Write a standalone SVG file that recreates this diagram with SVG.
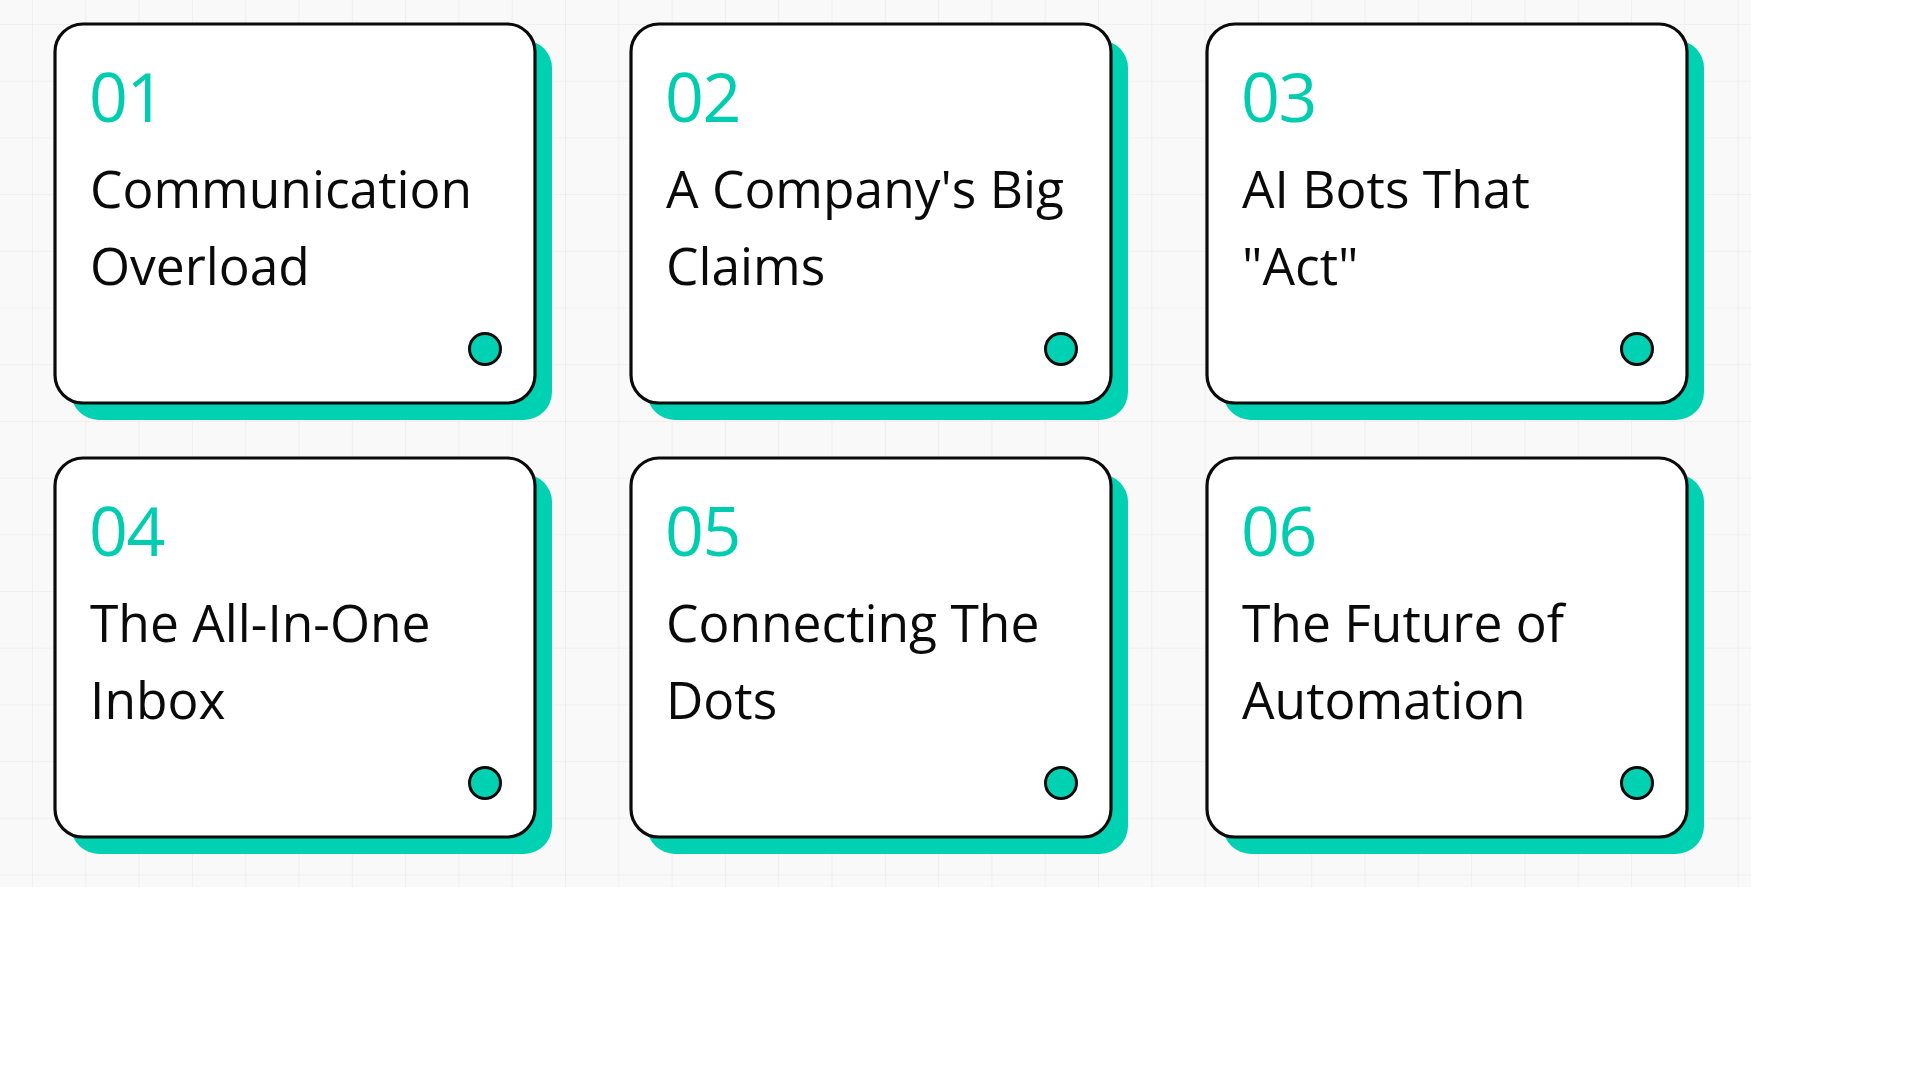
<svg xmlns="http://www.w3.org/2000/svg" width="1920" height="1080" viewBox="0 0 1920 1080">
  <defs>
    <pattern id="grid" patternUnits="userSpaceOnUse" x="32" y="24" width="53.3" height="56.7">
      <rect width="53.3" height="56.7" fill="#f9f9f9"/>
      <path d="M0 0V56.7M0 0H53.3" stroke="#ededed" stroke-width="1.6" fill="none"/>
    </pattern>
    <style>
      .shadow { fill: #00d1b2; }
      .card { fill: #ffffff; stroke: #0a0a0a; stroke-width: 3.2; }
      .num { font-family: "Open Sans", "Liberation Sans", sans-serif; font-size: 68px; fill: #00cdb0; letter-spacing: -1.5px; }
      .title { font-family: "Open Sans", "Liberation Sans", sans-serif; font-size: 51.5px; fill: #0a0a0a; }
      .dot { fill: #00d1b2; stroke: #0a0a0a; stroke-width: 3; }
    </style>
  </defs>
  <rect x="0" y="0" width="1920" height="1080" fill="#ffffff"/>
  <rect x="0" y="0" width="1751" height="887" fill="url(#grid)"/>

  <g id="card-01">
    <rect class="shadow" x="71" y="40" width="481" height="380" rx="28"/>
    <rect class="card" x="55" y="24" width="480" height="379" rx="28"/>
    <text class="num" x="89" y="122">01</text>
    <text class="title" x="90" y="208">Communication</text>
    <text class="title" x="90" y="285">Overload</text>
    <circle class="dot" cx="485" cy="349" r="15.5"/>
  </g>
  <g id="card-02">
    <rect class="shadow" x="647" y="40" width="481" height="380" rx="28"/>
    <rect class="card" x="631" y="24" width="480" height="379" rx="28"/>
    <text class="num" x="665" y="122">02</text>
    <text class="title" x="666" y="208">A Company's Big</text>
    <text class="title" x="666" y="285">Claims</text>
    <circle class="dot" cx="1061" cy="349" r="15.5"/>
  </g>
  <g id="card-03">
    <rect class="shadow" x="1223" y="40" width="481" height="380" rx="28"/>
    <rect class="card" x="1207" y="24" width="480" height="379" rx="28"/>
    <text class="num" x="1241" y="122">03</text>
    <text class="title" x="1242" y="208">AI Bots That</text>
    <text class="title" x="1242" y="285">"Act"</text>
    <circle class="dot" cx="1637" cy="349" r="15.5"/>
  </g>
  <g id="card-04">
    <rect class="shadow" x="71" y="474" width="481" height="380" rx="28"/>
    <rect class="card" x="55" y="458" width="480" height="379" rx="28"/>
    <text class="num" x="89" y="556">04</text>
    <text class="title" x="90" y="642">The All-In-One</text>
    <text class="title" x="90" y="719">Inbox</text>
    <circle class="dot" cx="485" cy="783" r="15.5"/>
  </g>
  <g id="card-05">
    <rect class="shadow" x="647" y="474" width="481" height="380" rx="28"/>
    <rect class="card" x="631" y="458" width="480" height="379" rx="28"/>
    <text class="num" x="665" y="556">05</text>
    <text class="title" x="666" y="642">Connecting The</text>
    <text class="title" x="666" y="719">Dots</text>
    <circle class="dot" cx="1061" cy="783" r="15.5"/>
  </g>
  <g id="card-06">
    <rect class="shadow" x="1223" y="474" width="481" height="380" rx="28"/>
    <rect class="card" x="1207" y="458" width="480" height="379" rx="28"/>
    <text class="num" x="1241" y="556">06</text>
    <text class="title" x="1242" y="642">The Future of</text>
    <text class="title" x="1242" y="719">Automation</text>
    <circle class="dot" cx="1637" cy="783" r="15.5"/>
  </g>
  <g id="connectors"/>
</svg>
